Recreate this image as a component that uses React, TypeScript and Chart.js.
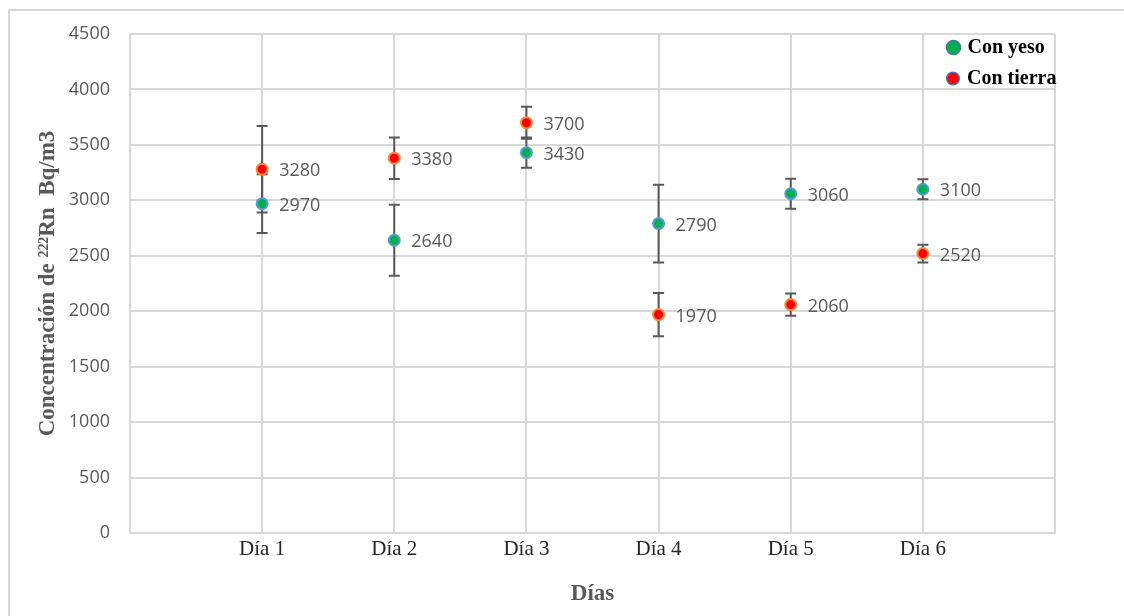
import React, { useEffect, useRef } from "react";
import { Chart, registerables } from "chart.js";

Chart.register(...registerables);

// Days of measurement (padded with empty slots at both ends of the axis)
const days = ["Día 1", "Día 2", "Día 3", "Día 4", "Día 5", "Día 6"];
const axisLabels = ["", ...days, ""];

// Mean 222Rn concentration (Bq/m3) and its uncertainty
const conYeso = [2970, 2640, 3430, 2790, 3060, 3100];
const errYeso = [265, 320, 137, 350, 135, 90];
const conTierra = [3280, 3380, 3700, 1970, 2060, 2520];
const errTierra = [390, 187, 145, 195, 100, 80];

const yTicksMin = 0;
const yTicksMax = 4500;
const yTicksStep = 500;

const GRID = "#d9d9d9";
const TEXT_GRAY = "#595959";
const NUM_FONT = "'Open Sans', 'Noto Sans', sans-serif";
const SERIF = "'Liberation Serif', 'DejaVu Serif', serif";

const pad = (arr: number[]) => [null, ...arr, null];

const errors: Record<number, number[]> = { 0: errYeso, 1: errTierra };

const framePlugin = {
  id: "frame",
  beforeDraw(chart: any) {
    const { ctx, width, height } = chart;
    ctx.save();
    ctx.fillStyle = "#ffffff";
    ctx.fillRect(0, 0, width, height);
    ctx.strokeStyle = GRID;
    ctx.lineWidth = 2;
    ctx.beginPath();
    ctx.moveTo(9, height);
    ctx.lineTo(9, 10);
    ctx.lineTo(width, 10);
    ctx.stroke();
    ctx.restore();
  },
};

const errorBarPlugin = {
  id: "errorBars",
  beforeDatasetsDraw(chart: any) {
    const { ctx } = chart;
    const xScale = chart.scales.x;
    const yScale = chart.scales.y;
    ctx.save();
    ctx.strokeStyle = "#595959";
    ctx.lineWidth = 2;
    chart.data.datasets.forEach((ds: any, di: number) => {
      const errs = errors[di];
      ds.data.forEach((v: number | null, i: number) => {
        if (v == null) return;
        const e = errs[i - 1];
        const x = xScale.getPixelForValue(i);
        const yTop = yScale.getPixelForValue(v + e);
        const yBot = yScale.getPixelForValue(v - e);
        const cap = 5.5;
        ctx.beginPath();
        ctx.moveTo(x, yTop);
        ctx.lineTo(x, yBot);
        ctx.moveTo(x - cap, yTop);
        ctx.lineTo(x + cap, yTop);
        ctx.moveTo(x - cap, yBot);
        ctx.lineTo(x + cap, yBot);
        ctx.stroke();
      });
    });
    ctx.restore();
  },
};

const valueLabelPlugin = {
  id: "valueLabels",
  afterDatasetsDraw(chart: any) {
    const { ctx } = chart;
    ctx.save();
    ctx.font = `18px ${NUM_FONT}`;
    ctx.fillStyle = TEXT_GRAY;
    ctx.textAlign = "left";
    ctx.textBaseline = "middle";
    chart.data.datasets.forEach((ds: any, di: number) => {
      const meta = chart.getDatasetMeta(di);
      meta.data.forEach((pt: any, i: number) => {
        const v = ds.data[i];
        if (v == null) return;
        ctx.fillText(String(v), pt.x + 17, pt.y + 2);
      });
    });
    ctx.restore();
  },
};

const legendPlugin = {
  id: "cornerLegend",
  afterDraw(chart: any) {
    const { ctx } = chart;
    const items = [
      { text: "Con yeso", fill: "#00B050", cx: 953.5, cy: 47.5, r: 7 },
      { text: "Con tierra", fill: "#FF0000", cx: 953, cy: 78.5, r: 6.3 },
    ];
    ctx.save();
    items.forEach((it) => {
      ctx.beginPath();
      ctx.arc(it.cx, it.cy, it.r, 0, Math.PI * 2);
      ctx.fillStyle = it.fill;
      ctx.fill();
      ctx.lineWidth = 1.6;
      ctx.strokeStyle = "#4F73A8";
      ctx.stroke();
      ctx.font = `bold 20px ${SERIF}`;
      ctx.fillStyle = "#000000";
      ctx.textAlign = "left";
      ctx.textBaseline = "middle";
      ctx.fillText(it.text, it.cx + 14, it.cy);
    });
    ctx.restore();
  },
};

export default function App() {
  const canvasRef = useRef<HTMLCanvasElement | null>(null);

  useEffect(() => {
    if (!canvasRef.current) return;
    const chart = new Chart(canvasRef.current, {
      type: "line",
      data: {
        labels: axisLabels,
        datasets: [
          {
            label: "Con yeso",
            data: pad(conYeso),
            showLine: false,
            pointRadius: 5.5,
            pointHoverRadius: 5.5,
            pointBackgroundColor: "#00B050",
            pointBorderColor: "#5B9BD5",
            pointBorderWidth: 2,
          },
          {
            label: "Con tierra",
            data: pad(conTierra),
            showLine: false,
            pointRadius: 5.5,
            pointHoverRadius: 5.5,
            pointBackgroundColor: "#FF0000",
            pointBorderColor: "#F08A3C",
            pointBorderWidth: 2,
          },
        ],
      },
      options: {
        animation: false,
        responsive: false,
        maintainAspectRatio: false,
        layout: { padding: { top: 34, right: 69, left: 0, bottom: 0 } },
        plugins: {
          legend: { display: false },
          tooltip: { enabled: false },
        },
        scales: {
          x: {
            type: "category",
            offset: false,
            grid: { color: GRID, lineWidth: 2, drawTicks: false },
            border: { color: GRID, width: 2 },
            ticks: {
              padding: 4,
              autoSkip: false,
              maxRotation: 0,
              color: "#262626",
              font: { family: SERIF, size: 21 },
            },
            title: {
              display: true,
              text: "Días",
              color: TEXT_GRAY,
              font: { family: SERIF, size: 23, weight: "bold" },
              padding: { top: 0, bottom: 8 },
            },
            afterFit(scale: any) {
              scale.height = 83;
            },
          },
          y: {
            min: yTicksMin,
            max: yTicksMax,
            grid: { color: GRID, lineWidth: 2, drawTicks: false },
            border: { color: GRID, width: 2 },
            ticks: {
              stepSize: yTicksStep,
              padding: 20,
              color: TEXT_GRAY,
              font: { family: NUM_FONT, size: 18 },
              callback: (value: any) => String(value),
            },
            title: {
              display: true,
              text: "Concentración de ²²²Rn  Bq/m3",
              color: TEXT_GRAY,
              font: { family: SERIF, size: 23, weight: "bold" },
              padding: { top: 34, bottom: 0 },
            },
            afterFit(scale: any) {
              scale.width = 130;
            },
          },
        },
      },
      plugins: [framePlugin, errorBarPlugin, valueLabelPlugin, legendPlugin],
    });
    return () => chart.destroy();
  }, []);

  return (
    <div style={{ position: "fixed", left: 0, top: 0, width: 1124, height: 616, background: "#fff" }}>
      <canvas ref={canvasRef} width={1124} height={616} style={{ display: "block" }} />
    </div>
  );
}
